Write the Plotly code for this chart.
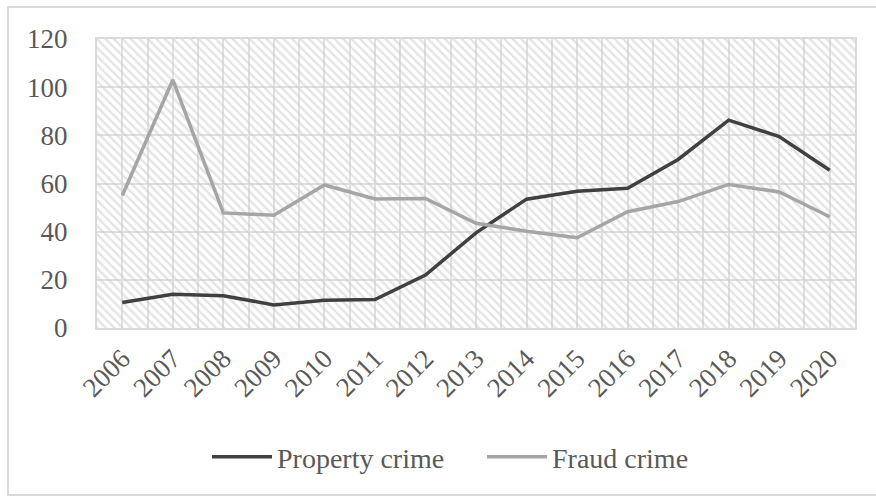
import plotly.graph_objects as go

years = list(range(2006, 2021))
property_crime = [10.6, 14.0, 13.4, 9.6, 11.5, 11.8, 22.0, 39.5, 53.5, 56.8, 58.0, 70.0, 86.3, 79.5, 65.5]
fraud_crime = [55.0, 103.0, 47.8, 46.8, 59.4, 53.6, 53.8, 43.5, 40.2, 37.5, 48.3, 52.5, 59.6, 56.5, 46.2]
y_ticks = [0, 20, 40, 60, 80, 100, 120]

W, H = 876, 497
ML, MR, MT, MB = 97, 21, 39, 169
x_range = [2005.5, 2020.5]
y_range = [0, 120]

font_family = "Liberation Serif, Times New Roman, serif"
tick_color = "#595959"

fig = go.Figure()

# hatched plot-area background
fig.add_trace(go.Scatter(
    x=[x_range[0], x_range[1], x_range[1], x_range[0], x_range[0]],
    y=[y_range[0], y_range[0], y_range[1], y_range[1], y_range[0]],
    mode="lines", fill="toself", line=dict(width=0),
    fillcolor="rgba(0,0,0,0)",
    fillpattern=dict(shape="\\", fgcolor="#c8c8c8", bgcolor="rgba(0,0,0,0)", size=6, solidity=0.4),
    hoverinfo="skip", showlegend=False,
))

fig.add_trace(go.Scatter(
    x=years, y=property_crime, mode="lines", name="Property crime",
    line=dict(color="#404040", width=3.5),
))
fig.add_trace(go.Scatter(
    x=years, y=fraud_crime, mode="lines", name="Fraud crime",
    line=dict(color="#a5a5a5", width=3.5),
))

pw = W - ML - MR
ph = H - MT - MB
def px2paper_x(px):
    return (px - ML) / pw
def px2paper_y(py):
    return (H - MB - py) / ph

fig.add_shape(type="rect", xref="paper", yref="paper",
              x0=px2paper_x(8), x1=px2paper_x(890), y0=px2paper_y(495), y1=px2paper_y(7),
              line=dict(color="#d9d9d9", width=2), fillcolor="rgba(0,0,0,0)", layer="below")

fig.update_layout(
    width=W, height=H,
    margin=dict(l=ML, r=MR, t=MT, b=MB),
    paper_bgcolor="white", plot_bgcolor="white",
    font=dict(family=font_family, size=27, color=tick_color),
    showlegend=True,
    legend=dict(orientation="h", x=px2paper_x(482), xanchor="center",
                y=px2paper_y(457), yanchor="middle",
                font=dict(family=font_family, size=28, color=tick_color),
                itemwidth=60, entrywidth=200, entrywidthmode="pixels",
                bgcolor="rgba(0,0,0,0)"),
    xaxis=dict(range=x_range, tickmode="array", tickvals=years, ticktext=[str(y) for y in years],
               tickangle=-45, showgrid=True, gridcolor="#e0e0e0", gridwidth=2,
               minor=dict(dtick=1, tick0=2005.5, showgrid=True, gridcolor="#e0e0e0", gridwidth=2),
               showline=True, linecolor="#d9d9d9", linewidth=2, mirror=True,
               zeroline=False, ticks="", ticklabelstandoff=2,
               tickfont=dict(family=font_family, size=27, color=tick_color)),
    yaxis=dict(range=y_range, tickmode="array", tickvals=y_ticks,
               showgrid=True, gridcolor="#e0e0e0", gridwidth=2,
               showline=True, linecolor="#d9d9d9", linewidth=2, mirror=True,
               zeroline=False, ticks="", ticklabelstandoff=22,
               tickfont=dict(family=font_family, size=27, color=tick_color)),
)

fig.write_html("out.html")
